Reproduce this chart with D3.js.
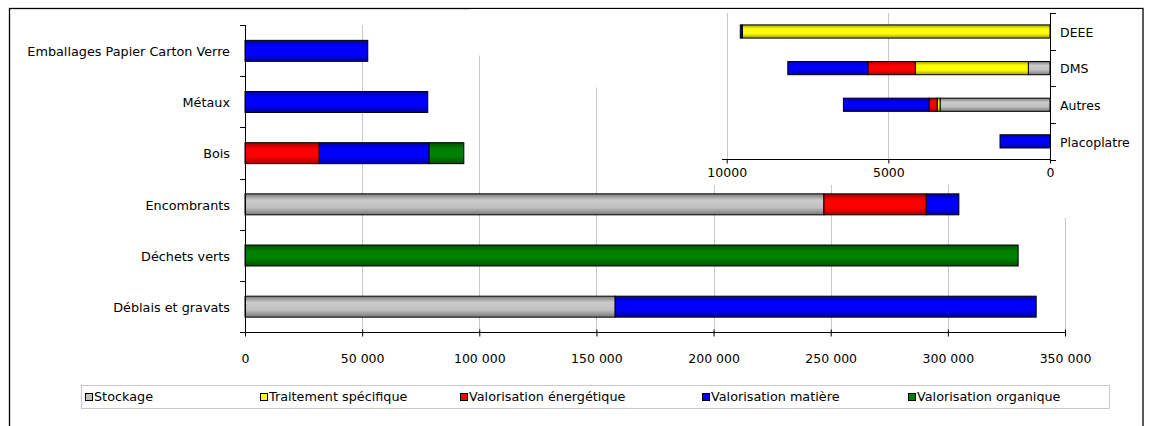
<!DOCTYPE html>
<html>
<head>
<meta charset="utf-8">
<script src="https://cdn.jsdelivr.net/npm/d3@7"></script>
<style>
  body { margin: 0; background: #fff; }
  svg { display: block; font-family: "DejaVu Sans", Verdana, sans-serif; }
</style>
</head>
<body>
<svg id="chart" width="1152" height="426"></svg>
<script>
// series (legend order = stacking order)
var seriesNames = ["Stockage", "Traitement spécifique", "Valorisation énergétique", "Valorisation matière", "Valorisation organique"];
var seriesColors = ["#c0c0c0", "#ffff00", "#ff0000", "#0000ff", "#008000"];

// main chart (tonnes)
var categories = ["Emballages Papier Carton Verre", "Métaux", "Bois", "Encombrants", "Déchets verts", "Déblais et gravats"];
var stockage    = [0, 0, 0, 247100, 0, 158000];
var traitement  = [0, 0, 0, 0, 0, 0];
var energetique = [0, 0, 31700, 43700, 0, 0];
var matiere     = [52400, 78000, 46900, 13900, 0, 179700];
var organique   = [0, 0, 14800, 0, 330000, 0];
var xTicks = [0, 50000, 100000, 150000, 200000, 250000, 300000, 350000];

// inset chart (tonnes)
var insetCategories = ["DEEE", "DMS", "Autres", "Placoplatre"];
var insetStockage    = [0, 670, 3400, 0];
var insetTraitement  = [9520, 3495, 90, 0];
var insetEnergetique = [0, 1470, 250, 0];
var insetMatiere     = [60, 2475, 2650, 1546];
var insetOrganique   = [0, 0, 0, 0];
var insetTicks = [10000, 5000, 0];

(function () {
  var svg = d3.select("#chart");
  var fr = d3.formatLocale({ decimal: ",", thousands: "\u00a0", grouping: [3], currency: ["", " €"] });
  var fmt = fr.format(",");

  function rows(cats, cols) {
    return cats.map(function (c, i) {
      var r = { cat: c };
      seriesNames.forEach(function (s, k) { r[s] = cols[k][i]; });
      return r;
    });
  }
  var stack = d3.stack().keys(seriesNames);
  var mainStack = stack(rows(categories, [stockage, traitement, energetique, matiere, organique]));
  var insetStack = stack(rows(insetCategories, [insetStockage, insetTraitement, insetEnergetique, insetMatiere, insetOrganique]));

  // cylinder-like shading on the bars
  var defs = svg.append("defs");
  seriesColors.forEach(function (c, i) {
    var base = d3.color(c);
    var g = defs.append("linearGradient").attr("id", "grad" + i)
      .attr("x1", 0).attr("y1", 0).attr("x2", 0).attr("y2", 1);
    g.append("stop").attr("offset", "0%").attr("stop-color", base.darker(1.3));
    g.append("stop").attr("offset", "30%").attr("stop-color", i === 0 ? base.brighter(0.15) : base);
    g.append("stop").attr("offset", "65%").attr("stop-color", base);
    g.append("stop").attr("offset", "100%").attr("stop-color", base.darker(1.3));
  });

  svg.append("rect").attr("width", 1152).attr("height", 426).attr("fill", "#fff");
  svg.append("rect").attr("x", 9.5).attr("y", 8.5).attr("width", 1133.5).attr("height", 500)
    .attr("fill", "none").attr("stroke", "#000").attr("stroke-width", 1.3);

  // ---- main chart ----
  var x = d3.scaleLinear().domain([0, 350000]).range([245, 1065]);
  var y = d3.scaleBand().domain(categories).range([25, 332]).padding(0);
  var bw = y.bandwidth();

  svg.append("g").selectAll("line").data(xTicks.slice(1)).join("line")
    .attr("x1", function (d) { return Math.round(x(d)) + 0.5; })
    .attr("x2", function (d) { return Math.round(x(d)) + 0.5; })
    .attr("y1", 25).attr("y2", 332)
    .attr("stroke", "#c8c8c8");

  // white backdrop of the inset hides the upper part of the grid
  var backdrop = [[470, 9], [1142, 9], [1142, 218], [1000, 218], [1000, 185], [600, 185], [600, 87.5], [500, 87.5], [500, 55.5], [470, 55.5]];
  svg.append("path").attr("d", "M" + backdrop.join("L") + "Z").attr("fill", "#fff");

  function drawBars(g, st, xs, ys, frac, off) {
    var b = ys.bandwidth();
    g.selectAll("g").data(st).join("g")
      .attr("fill", function (d, i) { return "url(#grad" + i + ")"; })
      .selectAll("rect")
      .data(function (d) { return d.filter(function (s) { return s[1] - s[0] > 0; }); })
      .join("rect")
      .attr("x", function (d) { return Math.min(xs(d[0]), xs(d[1])); })
      .attr("width", function (d) { return Math.abs(xs(d[1]) - xs(d[0])); })
      .attr("y", function (d) { return ys(d.data.cat) + b * off; })
      .attr("height", b * frac)
      .attr("stroke", "#000").attr("stroke-width", 1);
  }
  drawBars(svg.append("g"), mainStack, x, y, 0.41, 0.3);

  // y axis with ticks at category boundaries
  var ya = svg.append("g");
  ya.append("line").attr("x1", 245.5).attr("x2", 245.5).attr("y1", 25).attr("y2", 332.5).attr("stroke", "#000");
  var bounds = categories.map(function (c) { return y(c); }).concat([332]);
  ya.selectAll("line.t").data(bounds).join("line").attr("class", "t")
    .attr("x1", 240).attr("x2", 245)
    .attr("y1", function (d) { return Math.round(d) + 0.5; })
    .attr("y2", function (d) { return Math.round(d) + 0.5; })
    .attr("stroke", "#000");
  ya.selectAll("text").data(categories).join("text")
    .attr("x", 230).attr("y", function (d) { return y(d) + bw / 2 + 1; })
    .attr("dy", "0.35em").attr("text-anchor", "end")
    .attr("font-size", 12.8).attr("fill", "#000")
    .text(function (d) { return d; });

  var xa = svg.append("g").attr("transform", "translate(0,332.5)")
    .call(d3.axisBottom(x).tickValues(xTicks).tickSize(4).tickFormat(fmt));
  xa.select(".domain").attr("stroke", "#000").attr("d", "M245,0H1065");
  xa.selectAll(".tick line").attr("y1", -3).attr("stroke", "#000");
  xa.selectAll(".tick text").attr("y", 30.5).attr("dy", null)
    .attr("font-size", 12.5).attr("font-family", "DejaVu Sans, Verdana, sans-serif").attr("fill", "#000");

  // ---- inset chart (reversed axis, labels on the right) ----
  var xi = d3.scaleLinear().domain([0, 10000]).range([1050, 726.7]);
  var yi = d3.scaleBand().domain(insetCategories).range([13, 159.5]).padding(0);
  var bwi = yi.bandwidth();

  svg.append("g").selectAll("line").data(insetTicks.filter(function (d) { return d > 0; })).join("line")
    .attr("x1", function (d) { return Math.round(xi(d)) + 0.5; })
    .attr("x2", function (d) { return Math.round(xi(d)) + 0.5; })
    .attr("y1", 13).attr("y2", 159.5)
    .attr("stroke", "#c8c8c8");

  drawBars(svg.append("g"), insetStack, xi, yi, 0.36, 0.325);

  var yia = svg.append("g");
  yia.append("line").attr("x1", 1050.5).attr("x2", 1050.5).attr("y1", 13).attr("y2", 160).attr("stroke", "#000");
  var ibounds = insetCategories.map(function (c) { return yi(c); }).concat([159.5]);
  yia.selectAll("line.t").data(ibounds).join("line").attr("class", "t")
    .attr("x1", 1050).attr("x2", 1056)
    .attr("y1", function (d) { return Math.round(d) + 0.5; })
    .attr("y2", function (d) { return Math.round(d) + 0.5; })
    .attr("stroke", "#000");
  yia.selectAll("text").data(insetCategories).join("text")
    .attr("x", 1060).attr("y", function (d) { return yi(d) + bwi / 2 + 1; })
    .attr("dy", "0.35em").attr("font-size", 12.5).attr("fill", "#000")
    .text(function (d) { return d; });

  var xia = svg.append("g").attr("transform", "translate(0,159.5)")
    .call(d3.axisBottom(xi).tickValues(insetTicks).tickSize(4).tickFormat(d3.format("d")));
  xia.select(".domain").attr("stroke", "#000").attr("d", "M722,0H1050");
  xia.selectAll(".tick line").attr("stroke", "#000");
  xia.selectAll(".tick text").attr("y", 17).attr("dy", null)
    .attr("font-size", 12.5).attr("font-family", "DejaVu Sans, Verdana, sans-serif").attr("fill", "#000");

  // ---- legend ----
  var legendX = [85, 260, 460, 702, 908];
  var lg = svg.append("g");
  lg.append("rect").attr("x", 81.5).attr("y", 385.5).attr("width", 1028).attr("height", 23)
    .attr("fill", "#fff").attr("stroke", "#c8c8c8");
  var items = lg.selectAll("g").data(seriesNames).join("g")
    .attr("transform", function (d, i) { return "translate(" + legendX[i] + ",397)"; });
  items.append("rect").attr("x", 0.5).attr("y", -3.5).attr("width", 7).attr("height", 7)
    .attr("fill", function (d, i) { return seriesColors[i]; }).attr("stroke", "#000");
  items.append("text").attr("x", 9).attr("dy", "0.35em")
    .attr("font-size", 12.8).attr("fill", "#000")
    .text(function (d) { return d; });
})();
</script>
</body>
</html>
